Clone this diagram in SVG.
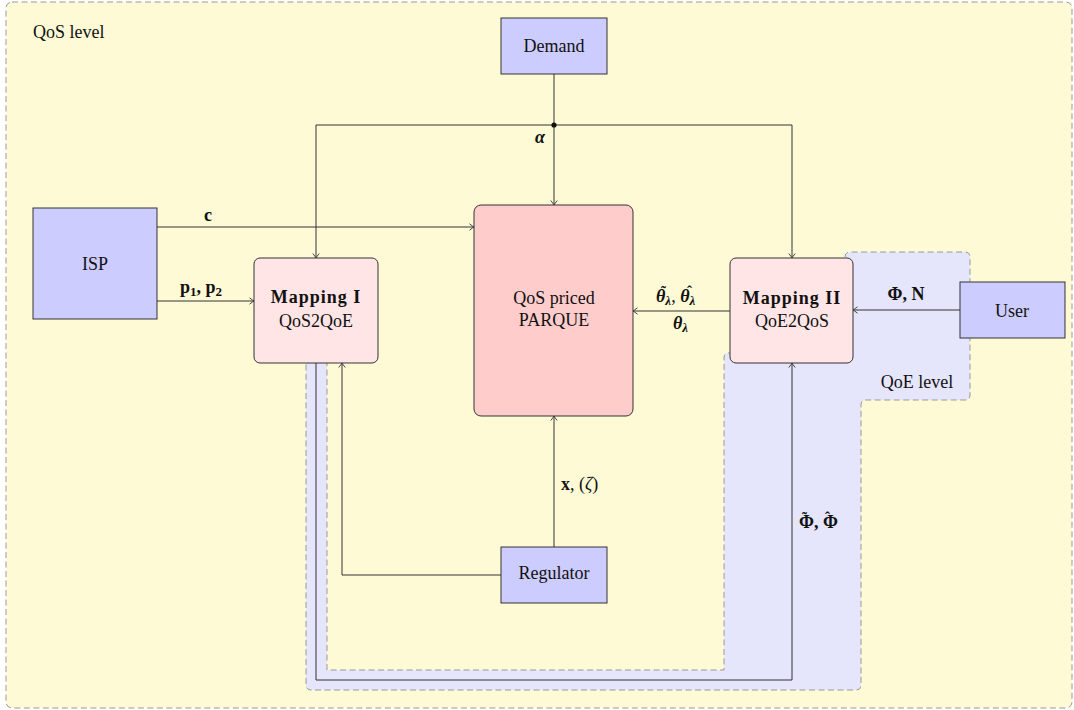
<svg xmlns="http://www.w3.org/2000/svg" width="1074" height="710" viewBox="0 0 1074 710">
<style>
text{font-family:"Liberation Serif","DejaVu Serif","Times New Roman",serif;font-size:18px;fill:#111}
.b{font-weight:bold}
.bi{font-weight:bold;font-style:italic}
.it{font-style:italic}
.acc{font-size:15px;font-weight:bold;font-style:normal}
.sub{font-size:13px}
.region{stroke:#999;stroke-width:1;stroke-dasharray:6,3.5}
.blue{fill:#ccccff;stroke:#333;stroke-width:1}
.map{fill:#ffe5e5;stroke:#333;stroke-width:1}
.core{fill:#ffcccc;stroke:#333;stroke-width:1}
.conn path{fill:none;stroke:#333;stroke-width:1}
.arr{marker-end:url(#ah)}
.lbl{text-anchor:middle}
</style>
<defs>
<marker id="ah" markerUnits="userSpaceOnUse" markerWidth="10" markerHeight="10" viewBox="-6 -5 7 10" refX="0" refY="0" orient="auto">
<path d="M-4.5,-3.2 Q-1.2,-0.6 0,0 Q-1.2,0.6 -4.5,3.2" fill="none" stroke="#333" stroke-width="0.9"/>
</marker>
</defs>
<g id="qos-level">
<rect class="region" x="6" y="2" width="1066" height="706" rx="6" fill="#fefad6"/>
<text x="33" y="38">QoS level</text>
</g>
<g id="qoe-level">
<path class="region" fill="#e5e5fb" d="M845,352 L845,257 Q845,252 850,252 L965,252 Q970,252 970,257 L970,395 Q970,400 965,400 L866,400 Q861,400 861,405 L861,685 Q861,690 856,690 L311,690 Q306,690 306,685 L306,352 L327,352 L327,670 L724,670 L724,358 Q724,353 729,353 Z"/>
<text x="917" y="388" class="lbl">QoE level</text>
</g>
<g id="connectors" class="conn">
<path d="M554,74 L554,125"/>
<path class="arr" d="M554,125 L554,205"/>
<path class="arr" d="M554,125 L316,125 L316,258"/>
<path class="arr" d="M554,125 L792,125 L792,258"/>
<path class="arr" d="M157,227 L474,227"/>
<path class="arr" d="M157,301 L254,301"/>
<path class="arr" d="M730,311 L633,311"/>
<path class="arr" d="M960,310 L853,310"/>
<path class="arr" d="M554,547 L554,416"/>
<path class="arr" d="M501,575 L342,575 L342,363"/>
<path class="arr" d="M316,363 L316,680 L792,680 L792,363"/>
<circle cx="554" cy="125" r="2.6" fill="#111"/>
</g>
<g id="demand">
<rect class="blue" x="501" y="18" width="106" height="56"/>
<text x="554" y="52" class="lbl">Demand</text>
</g>
<g id="isp">
<rect class="blue" x="33" y="208" width="124" height="111"/>
<text x="95" y="270" class="lbl">ISP</text>
</g>
<g id="mapping1">
<rect class="map" x="254" y="258" width="124" height="105" rx="6"/>
<text x="316" y="303" class="lbl b" font-size="19" letter-spacing="1">Mapping I</text>
<text x="316" y="327" class="lbl">QoS2QoE</text>
</g>
<g id="parque">
<rect class="core" x="474" y="205" width="159" height="211" rx="7"/>
<text x="554" y="304" class="lbl">QoS priced</text>
<text x="554" y="326" class="lbl">PARQUE</text>
</g>
<g id="mapping2">
<rect class="map" x="730" y="258" width="123" height="105" rx="6"/>
<text x="792" y="304" class="lbl b" font-size="19" letter-spacing="1">Mapping II</text>
<text x="792" y="327" class="lbl">QoE2QoS</text>
</g>
<g id="user">
<rect class="blue" x="960" y="282" width="105" height="56"/>
<text x="1012" y="317" class="lbl">User</text>
</g>
<g id="regulator">
<rect class="blue" x="501" y="547" width="106" height="56"/>
<text x="554" y="579" class="lbl">Regulator</text>
</g>
<g id="labels">
<text x="208" y="221" class="lbl b">c</text>
<text x="180" y="293" class="b">p<tspan class="sub" dy="3">1</tspan><tspan dy="-3">, p</tspan><tspan class="sub" dy="3">2</tspan></text>
<text x="540" y="143" class="lbl bi">α</text>
<text x="656" y="302" font-size="20"><tspan class="bi">θ</tspan><tspan class="bi sub" dy="3">λ</tspan><tspan dy="-3">, </tspan><tspan class="bi">θ</tspan><tspan class="bi sub" dy="3">λ</tspan><tspan class="acc" x="661" y="296">˜</tspan><tspan class="acc" x="687" y="296">ˆ</tspan></text>
<text x="673" y="329" font-size="20"><tspan class="bi">θ</tspan><tspan class="bi sub" dy="3">λ</tspan></text>
<text x="906" y="300" class="lbl b">Φ, N</text>
<text x="561" y="490"><tspan class="b">x</tspan>, (<tspan class="it">ζ</tspan>)</text>
<text x="799" y="528" class="b">Φ, Φ<tspan class="acc" x="802" y="522">˜</tspan><tspan class="acc" x="825" y="522">ˆ</tspan></text>
</g>
</svg>
